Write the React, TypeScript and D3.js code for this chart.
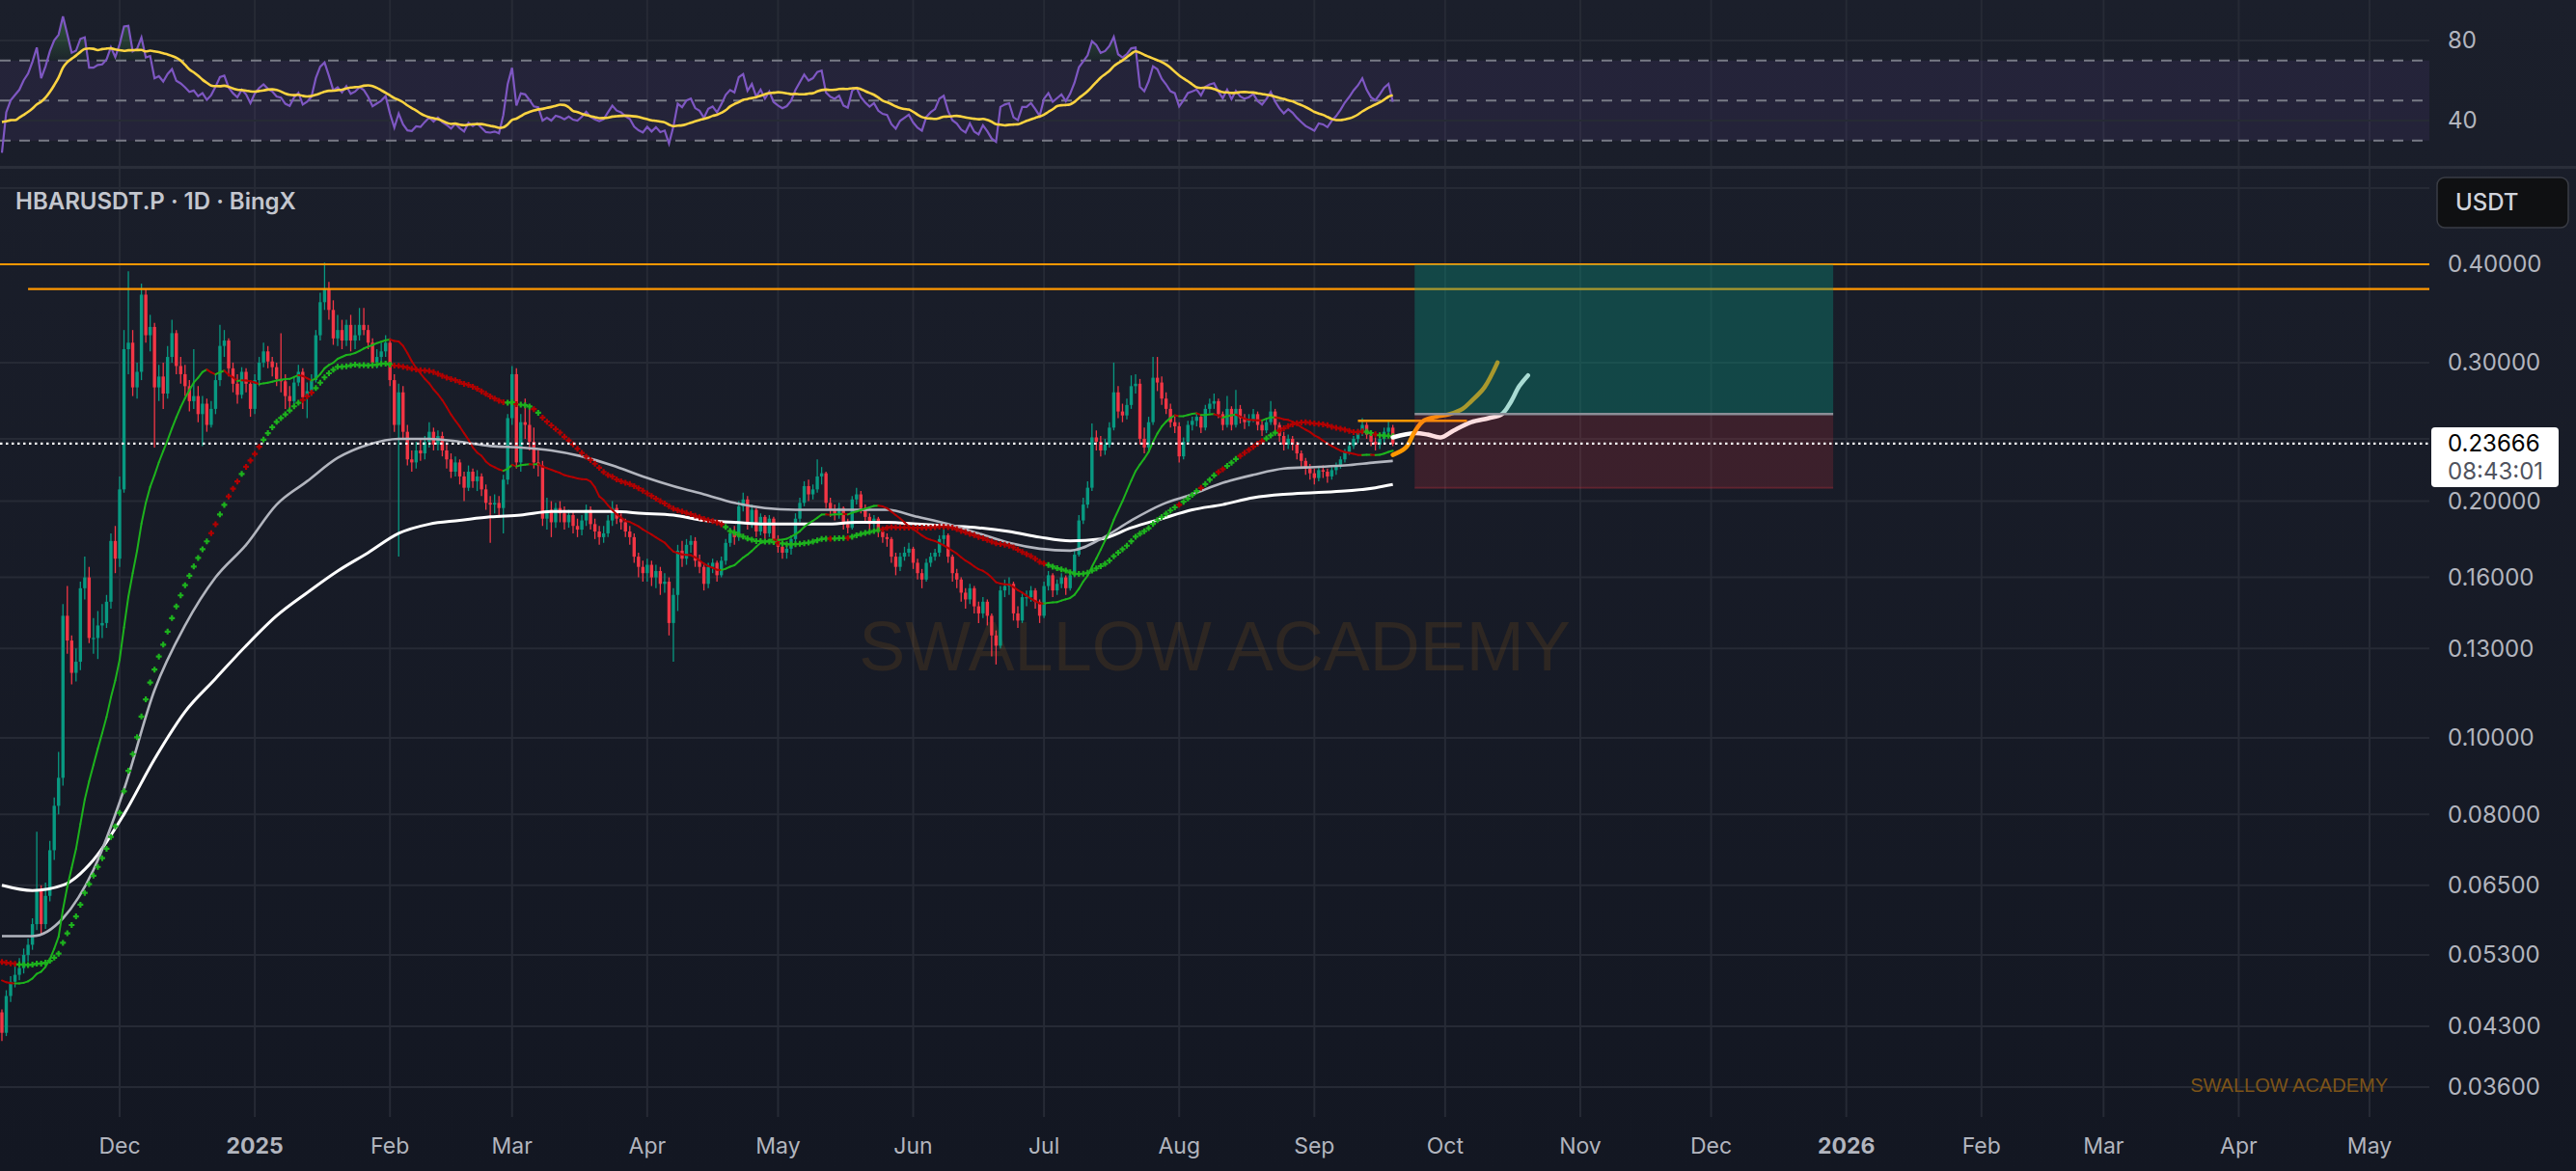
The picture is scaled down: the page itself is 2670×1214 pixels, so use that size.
import { useEffect, useRef } from "react";
import * as d3 from "d3";

// daily candles, the first one is 2024-11-04 (UTC), open = previous close
const firstCandle = "2024-11-04";

const closes = [
  0.0422, 0.047, 0.049, 0.05, 0.051, 0.053, 0.0546, 0.058, 0.064, 0.058,
  0.063, 0.072, 0.082, 0.089, 0.143, 0.133, 0.121, 0.125, 0.155, 0.16,
  0.134, 0.134, 0.139, 0.14, 0.149, 0.178, 0.169, 0.207, 0.312, 0.318,
  0.279, 0.292, 0.366, 0.325, 0.333, 0.279, 0.288, 0.274, 0.305, 0.327,
  0.297, 0.29, 0.28, 0.268, 0.272, 0.258, 0.266, 0.25, 0.262, 0.285,
  0.315, 0.32, 0.295, 0.282, 0.273, 0.292, 0.282, 0.262, 0.285, 0.3,
  0.31, 0.301, 0.296, 0.286, 0.284, 0.272, 0.268, 0.283, 0.292, 0.271,
  0.276, 0.285, 0.325, 0.358, 0.372, 0.35, 0.322, 0.33, 0.32, 0.335,
  0.32, 0.325, 0.335, 0.33, 0.318, 0.3, 0.305, 0.31, 0.318, 0.285,
  0.25, 0.275, 0.245, 0.226, 0.224, 0.232, 0.23, 0.238, 0.245, 0.236,
  0.242, 0.232, 0.226, 0.218, 0.224, 0.215, 0.208, 0.218, 0.212, 0.215,
  0.207, 0.199, 0.198, 0.199, 0.196, 0.213, 0.255, 0.29, 0.224, 0.252,
  0.25, 0.238, 0.224, 0.222, 0.19, 0.195, 0.188, 0.196, 0.193, 0.188,
  0.192, 0.186, 0.184, 0.189, 0.195, 0.187, 0.183, 0.18, 0.182, 0.189,
  0.196, 0.19, 0.188, 0.183, 0.18, 0.17, 0.165, 0.162, 0.166, 0.16,
  0.163, 0.157, 0.158, 0.14, 0.152, 0.173, 0.169, 0.176, 0.178, 0.168,
  0.165, 0.157, 0.165, 0.167, 0.161, 0.168, 0.177, 0.182, 0.18, 0.197,
  0.201, 0.187, 0.195, 0.183, 0.191, 0.182, 0.19, 0.179, 0.175, 0.172,
  0.174, 0.179, 0.19, 0.199, 0.209, 0.204, 0.207, 0.215, 0.217, 0.199,
  0.195, 0.193, 0.196, 0.187, 0.185, 0.201, 0.204, 0.196, 0.191, 0.187,
  0.19, 0.183, 0.18, 0.179, 0.17, 0.165, 0.17, 0.172, 0.174, 0.167,
  0.162, 0.159, 0.167, 0.17, 0.172, 0.179, 0.181, 0.17, 0.162, 0.159,
  0.153, 0.15, 0.155, 0.147, 0.144, 0.149, 0.143, 0.135, 0.131, 0.154,
  0.156, 0.157, 0.144, 0.141, 0.151, 0.151, 0.154, 0.149, 0.143, 0.156,
  0.161, 0.154, 0.157, 0.16, 0.155, 0.161, 0.171, 0.189, 0.198, 0.208,
  0.241, 0.238, 0.232, 0.236, 0.248, 0.275, 0.26, 0.257, 0.265, 0.28,
  0.282, 0.24, 0.234, 0.252, 0.287, 0.283, 0.27, 0.262, 0.252, 0.249,
  0.228, 0.238, 0.25, 0.253, 0.256, 0.248, 0.262, 0.266, 0.268, 0.258,
  0.25, 0.262, 0.25, 0.262, 0.255, 0.252, 0.254, 0.258, 0.25, 0.246,
  0.252, 0.26, 0.25, 0.242, 0.236, 0.24, 0.236, 0.23, 0.225, 0.22,
  0.217, 0.214, 0.219, 0.218, 0.215, 0.219, 0.222, 0.226, 0.231, 0.235,
  0.24, 0.244, 0.25, 0.243, 0.238, 0.236, 0.24, 0.245, 0.248, 0.2366,
];

const highs = [
  0.0452, 0.0478, 0.0498, 0.0515, 0.0525, 0.054, 0.0556, 0.059, 0.076, 0.065,
  0.0655, 0.074, 0.084, 0.096, 0.148, 0.156, 0.135, 0.13, 0.158, 0.17,
  0.165, 0.142, 0.145, 0.148, 0.152, 0.182, 0.186, 0.215, 0.33, 0.392,
  0.33, 0.3, 0.378, 0.372, 0.345, 0.337, 0.298, 0.3, 0.315, 0.34,
  0.33, 0.305, 0.298, 0.285, 0.312, 0.28, 0.272, 0.27, 0.268, 0.29,
  0.335, 0.33, 0.322, 0.3, 0.29, 0.296, 0.295, 0.285, 0.29, 0.305,
  0.318, 0.315, 0.305, 0.3, 0.327, 0.29, 0.28, 0.288, 0.298, 0.295,
  0.283, 0.29, 0.33, 0.368, 0.402, 0.38, 0.36, 0.345, 0.34, 0.34,
  0.345, 0.335, 0.352, 0.352, 0.335, 0.322, 0.312, 0.318, 0.325, 0.322,
  0.29, 0.282, 0.28, 0.25, 0.232, 0.238, 0.24, 0.242, 0.252, 0.248,
  0.246, 0.245, 0.236, 0.23, 0.228, 0.226, 0.218, 0.222, 0.22, 0.219,
  0.217, 0.21, 0.203, 0.204, 0.203, 0.216, 0.258, 0.297, 0.295, 0.258,
  0.27, 0.262, 0.248, 0.232, 0.225, 0.202, 0.2, 0.199, 0.2, 0.197,
  0.195, 0.194, 0.19, 0.192, 0.198, 0.197, 0.19, 0.186, 0.186, 0.192,
  0.2, 0.198, 0.193, 0.19, 0.186, 0.182, 0.172, 0.168, 0.169, 0.168,
  0.166, 0.165, 0.162, 0.16, 0.155, 0.176, 0.178, 0.179, 0.181, 0.18,
  0.171, 0.167, 0.167, 0.169, 0.168, 0.17, 0.179, 0.185, 0.186, 0.2,
  0.205, 0.203, 0.198, 0.196, 0.193, 0.192, 0.192, 0.191, 0.181, 0.177,
  0.176, 0.181, 0.193, 0.202, 0.212, 0.213, 0.21, 0.226, 0.221, 0.218,
  0.202, 0.198, 0.199, 0.197, 0.19, 0.203, 0.208, 0.206, 0.198, 0.193,
  0.192, 0.191, 0.185, 0.182, 0.18, 0.172, 0.172, 0.175, 0.177, 0.175,
  0.169, 0.164, 0.169, 0.172, 0.174, 0.181, 0.184, 0.182, 0.171, 0.164,
  0.16, 0.155, 0.157, 0.156, 0.149, 0.151, 0.15, 0.144, 0.137, 0.156,
  0.159, 0.16, 0.158, 0.147, 0.153, 0.154, 0.156, 0.155, 0.15, 0.158,
  0.163, 0.162, 0.159, 0.162, 0.161, 0.163, 0.173, 0.192, 0.202, 0.212,
  0.251, 0.246, 0.242, 0.24, 0.252, 0.3, 0.28, 0.266, 0.27, 0.289,
  0.29, 0.286, 0.248, 0.256, 0.305, 0.305, 0.288, 0.275, 0.266, 0.256,
  0.252, 0.241, 0.253, 0.256, 0.259, 0.258, 0.265, 0.27, 0.274, 0.27,
  0.26, 0.272, 0.264, 0.277, 0.265, 0.258, 0.258, 0.262, 0.26, 0.253,
  0.255, 0.268, 0.262, 0.252, 0.245, 0.243, 0.242, 0.238, 0.232, 0.227,
  0.223, 0.22, 0.221, 0.222, 0.22, 0.221, 0.224, 0.228, 0.233, 0.238,
  0.242, 0.247, 0.255, 0.252, 0.246, 0.241, 0.243, 0.248, 0.253, 0.25,
];

const lows = [
  0.0412, 0.0418, 0.0462, 0.0482, 0.0492, 0.0502, 0.052, 0.0538, 0.057, 0.0562,
  0.0572, 0.062, 0.07, 0.08, 0.087, 0.128, 0.117, 0.118, 0.122, 0.15,
  0.132, 0.128, 0.126, 0.134, 0.138, 0.146, 0.162, 0.165, 0.205, 0.29,
  0.272, 0.27, 0.285, 0.318, 0.31, 0.234, 0.268, 0.262, 0.27, 0.3,
  0.29, 0.282, 0.272, 0.26, 0.262, 0.252, 0.235, 0.245, 0.248, 0.258,
  0.28, 0.305, 0.288, 0.275, 0.266, 0.27, 0.275, 0.256, 0.258, 0.28,
  0.296, 0.295, 0.288, 0.28, 0.275, 0.262, 0.26, 0.265, 0.28, 0.262,
  0.255, 0.272, 0.283, 0.32, 0.35, 0.34, 0.316, 0.315, 0.312, 0.315,
  0.31, 0.312, 0.32, 0.325, 0.312, 0.295, 0.295, 0.298, 0.305, 0.28,
  0.245, 0.17, 0.24, 0.222, 0.218, 0.22, 0.225, 0.226, 0.234, 0.232,
  0.232, 0.228, 0.22, 0.214, 0.215, 0.21, 0.2, 0.206, 0.208, 0.206,
  0.203, 0.195, 0.177, 0.193, 0.191, 0.182, 0.21, 0.25, 0.22, 0.218,
  0.24, 0.232, 0.22, 0.215, 0.186, 0.184, 0.18, 0.185, 0.188, 0.184,
  0.185, 0.182, 0.18, 0.181, 0.186, 0.184, 0.179, 0.176, 0.177, 0.18,
  0.186, 0.187, 0.184, 0.18, 0.176, 0.167, 0.16, 0.158, 0.158, 0.156,
  0.155, 0.152, 0.153, 0.135, 0.125, 0.145, 0.165, 0.166, 0.172, 0.165,
  0.162, 0.154, 0.155, 0.162, 0.158, 0.16, 0.166, 0.175, 0.176, 0.178,
  0.194, 0.184, 0.185, 0.18, 0.181, 0.179, 0.18, 0.176, 0.172, 0.169,
  0.169, 0.171, 0.177, 0.188, 0.197, 0.2, 0.201, 0.205, 0.21, 0.196,
  0.191, 0.189, 0.19, 0.184, 0.182, 0.184, 0.198, 0.193, 0.188, 0.184,
  0.185, 0.18, 0.177, 0.175, 0.167, 0.161, 0.163, 0.168, 0.17, 0.164,
  0.159, 0.155, 0.158, 0.165, 0.168, 0.17, 0.176, 0.167, 0.158, 0.155,
  0.149, 0.146, 0.148, 0.144, 0.14, 0.142, 0.139, 0.127, 0.124, 0.13,
  0.151, 0.152, 0.141, 0.138, 0.14, 0.147, 0.149, 0.146, 0.14, 0.142,
  0.154, 0.151, 0.152, 0.155, 0.152, 0.154, 0.16, 0.17, 0.187, 0.196,
  0.206, 0.232, 0.228, 0.229, 0.234, 0.246, 0.255, 0.252, 0.254, 0.262,
  0.274, 0.236, 0.23, 0.232, 0.25, 0.276, 0.265, 0.258, 0.248, 0.244,
  0.224, 0.226, 0.236, 0.246, 0.249, 0.244, 0.246, 0.259, 0.262, 0.255,
  0.246, 0.248, 0.246, 0.248, 0.251, 0.247, 0.249, 0.252, 0.246, 0.242,
  0.244, 0.25, 0.246, 0.238, 0.232, 0.233, 0.232, 0.226, 0.221, 0.216,
  0.213, 0.21, 0.212, 0.214, 0.211, 0.213, 0.216, 0.22, 0.224, 0.229,
  0.233, 0.237, 0.242, 0.24, 0.235, 0.232, 0.233, 0.237, 0.242, 0.235,
];

// closes before the first visible candle, only used to warm up the SMA / RSI
const priorCloses = [
  0.053, 0.0535, 0.054, 0.0552, 0.0556, 0.056, 0.0558,
  0.0565, 0.0572, 0.0568, 0.0575, 0.058, 0.0576, 0.057,
  0.0555, 0.0522, 0.051, 0.0515, 0.052, 0.0518, 0.0524,
  0.052, 0.0512, 0.0508, 0.0502, 0.051, 0.0515, 0.0512,
  0.0525, 0.0518, 0.0522, 0.0515, 0.051, 0.0508, 0.0512,
  0.0505, 0.0498, 0.0502, 0.052, 0.0485, 0.049, 0.0495,
  0.05, 0.0505, 0.0492, 0.048, 0.0468, 0.046, 0.0448,
];

// slow moving averages, read every 7 days from the first candle (last = final candle)
const ma100 = [
  0.056, 0.056, 0.059, 0.068, 0.086, 0.115, 0.139, 0.16, 0.176, 0.198,
  0.212, 0.227, 0.236, 0.24, 0.24, 0.238, 0.235, 0.234, 0.232, 0.228,
  0.222, 0.215, 0.209, 0.204, 0.199, 0.196, 0.195, 0.195, 0.195, 0.195,
  0.191, 0.187, 0.182, 0.177, 0.174, 0.173, 0.179, 0.189, 0.198, 0.204,
  0.211, 0.216, 0.22, 0.221, 0.222, 0.224, 0.225,
];
const ma200 = [
  0.065, 0.064, 0.065, 0.07, 0.08, 0.094, 0.108, 0.119, 0.131, 0.143,
  0.153, 0.163, 0.172, 0.182, 0.187, 0.189, 0.191, 0.192, 0.194, 0.194,
  0.194, 0.193, 0.192, 0.189, 0.188, 0.187, 0.187, 0.187, 0.188, 0.188,
  0.187, 0.186, 0.185, 0.183, 0.18, 0.178, 0.179, 0.185, 0.19, 0.195,
  0.198, 0.202, 0.204, 0.205, 0.206, 0.208, 0.21,
];

const priceTicks = [0.5, 0.4, 0.3, 0.24, 0.2, 0.16, 0.13, 0.1, 0.08, 0.065, 0.053, 0.043, 0.036];
const hiddenTicks = [0.5, 0.24];
const rsiGridTicks = [80, 40];
const rsiBandTicks = [70, 50, 30];
const lastPrice = 0.23666;
const countdown = "08:43:01";

// horizontal levels drawn on the chart
const levelPrices = [0.4, 0.372];
const levelStarts = ["2024-11-01", "2024-11-10"];
const resistancePrice = 0.253;
const resistanceDates = ["2025-09-11", "2025-10-06"];

// long position tool
const positionDates = ["2025-09-24", "2025-12-29"];
const positionEntry = 0.258;
const positionTarget = 0.4;
const positionStop = 0.208;

// projected paths, in days after the last candle
const orangeDays = [0, 3, 5, 7, 10, 13, 16, 18, 21, 24];
const orangePrices = [0.229, 0.234, 0.245, 0.253, 0.256, 0.258, 0.262, 0.268, 0.279, 0.3];
const whiteDays = [0, 5, 8, 11, 14, 18, 22, 25, 27, 29, 31];
const whitePrices = [0.241, 0.244, 0.243, 0.241, 0.246, 0.252, 0.255, 0.258, 0.267, 0.28, 0.289];

const W = 2670;
const H = 1214;
const plotRight = 2518;
const rsiBottom = 172;
const mainTop = 175;
const mainBottom = 1158;

const sma = (v: number[], n: number) =>
  v.map((_, i) => (i < n - 1 ? NaN : (d3.sum(v.slice(i - n + 1, i + 1)) as number) / n));

const rsiCalc = (v: number[], n: number) => {
  const out = v.map(() => NaN);
  let g = 0;
  let l = 0;
  for (let i = 1; i <= n; i++) {
    const d = v[i] - v[i - 1];
    if (d > 0) g += d;
    else l -= d;
  }
  g /= n;
  l /= n;
  out[n] = 100 - 100 / (1 + g / l);
  for (let i = n + 1; i < v.length; i++) {
    const d = v[i] - v[i - 1];
    g = (g * (n - 1) + Math.max(d, 0)) / n;
    l = (l * (n - 1) + Math.max(-d, 0)) / n;
    out[i] = l === 0 ? 100 : 100 - 100 / (1 + g / l);
  }
  return out;
};

const App = () => {
  const ref = useRef<SVGSVGElement>(null);

  useEffect(() => {
    if (!ref.current) return;
    const svg = d3.select(ref.current);
    svg.selectAll("*").remove();

    const font = "Inter, 'Noto Sans', sans-serif";
    const green = "#1db31d";
    const red = "#b30000";
    const up = "#089981";
    const down = "#f23645";
    const gridColor = "#262a35";
    const labelColor = "#b2b5be";

    const parse = d3.utcParse("%Y-%m-%d");
    const t0 = parse(firstCandle)!;
    const n = closes.length;
    const dates = closes.map((_, i) => d3.utcDay.offset(t0, i));
    const lastDate = dates[n - 1];

    const x = d3
      .scaleUtc()
      .domain([new Date(Date.UTC(2024, 11, 1)), new Date(Date.UTC(2026, 4, 1))])
      .range([124, 2456]);
    const y = d3.scaleLog().domain([0.036, 0.4]).range([1127, 274]);
    const yR = d3.scaleLinear().domain([20, 100]).range([166.5, 0.5]);

    // indicators
    const all = priorCloses.concat(closes);
    const off = priorCloses.length;
    const sma20All = sma(all, 20);
    const sma20 = sma20All.slice(off);
    const sma50 = sma(all, 50).slice(off);
    const rising = sma20.map((v, i) => v >= sma20All[off + i - 1]);
    const rsiAll = rsiCalc(all, 14);
    const rsiMaAll = rsiAll.map((_, i) =>
      i < 27 ? NaN : (d3.sum(rsiAll.slice(i - 13, i + 1)) as number) / 14
    );
    const rsi = rsiAll.slice(off);
    const rsiMa = rsiMaAll.slice(off);

    // defs
    const defs = svg.append("defs");
    const bg = defs.append("linearGradient").attr("id", "bg").attr("x1", 0).attr("x2", 0).attr("y1", 0).attr("y2", 1);
    bg.append("stop").attr("offset", "0%").attr("stop-color", "#1b1f2b");
    bg.append("stop").attr("offset", "100%").attr("stop-color", "#131722");
    defs.append("clipPath").attr("id", "rsiClip").append("rect")
      .attr("x", 0).attr("y", 0).attr("width", plotRight).attr("height", rsiBottom);
    defs.append("clipPath").attr("id", "mainClip").append("rect")
      .attr("x", 0).attr("y", mainTop).attr("width", plotRight).attr("height", mainBottom - mainTop);
    defs.append("clipPath").attr("id", "rsiTop").append("rect")
      .attr("x", 0).attr("y", 0).attr("width", plotRight).attr("height", yR(70));
    defs.append("clipPath").attr("id", "rsiBottomClip").append("rect")
      .attr("x", 0).attr("y", yR(30)).attr("width", plotRight).attr("height", rsiBottom - yR(30));
    const gUp = defs.append("linearGradient").attr("id", "rsiUp").attr("gradientUnits", "userSpaceOnUse")
      .attr("x1", 0).attr("x2", 0).attr("y1", yR(95)).attr("y2", yR(70));
    gUp.append("stop").attr("offset", "0%").attr("stop-color", "#4caf50").attr("stop-opacity", 0.45);
    gUp.append("stop").attr("offset", "100%").attr("stop-color", "#4caf50").attr("stop-opacity", 0.04);
    const gDn = defs.append("linearGradient").attr("id", "rsiDn").attr("gradientUnits", "userSpaceOnUse")
      .attr("x1", 0).attr("x2", 0).attr("y1", yR(30)).attr("y2", yR(10));
    gDn.append("stop").attr("offset", "0%").attr("stop-color", "#f23645").attr("stop-opacity", 0.04);
    gDn.append("stop").attr("offset", "100%").attr("stop-color", "#f23645").attr("stop-opacity", 0.45);

    svg.append("rect").attr("width", W).attr("height", H).attr("fill", "url(#bg)");

    // vertical month grid over both panes
    const months = d3.utcMonth.range(new Date(Date.UTC(2024, 11, 1)), new Date(Date.UTC(2026, 5, 1)));
    svg.append("g").selectAll("line").data(months).join("line")
      .attr("x1", (d) => x(d)).attr("x2", (d) => x(d))
      .attr("y1", 0).attr("y2", mainBottom)
      .attr("stroke", gridColor).attr("stroke-width", 2);

    // ---------- RSI pane ----------
    const rg = svg.append("g").attr("clip-path", "url(#rsiClip)");
    rg.append("rect").attr("x", 0).attr("width", plotRight)
      .attr("y", yR(70)).attr("height", yR(30) - yR(70))
      .attr("fill", "rgba(126,87,194,0.1)");
    rg.selectAll(".rgrid").data(rsiGridTicks).join("line").attr("class", "rgrid")
      .attr("x1", 0).attr("x2", plotRight).attr("y1", (d) => yR(d)).attr("y2", (d) => yR(d))
      .attr("stroke", gridColor).attr("stroke-width", 2);
    rg.selectAll(".rband").data(rsiBandTicks).join("line").attr("class", "rband")
      .attr("x1", 0).attr("x2", plotRight).attr("y1", (d) => yR(d)).attr("y2", (d) => yR(d))
      .attr("stroke", "#787b86").attr("stroke-width", 2).attr("stroke-dasharray", "11 9");

    const rsiIdx = d3.range(n).filter((i) => !isNaN(rsi[i]));
    rg.append("path").attr("clip-path", "url(#rsiTop)")
      .attr("d", d3.area<number>().x((i) => x(dates[i])).y1((i) => yR(rsi[i])).y0(yR(70))(rsiIdx) as string)
      .attr("fill", "url(#rsiUp)");
    rg.append("path").attr("clip-path", "url(#rsiBottomClip)")
      .attr("d", d3.area<number>().x((i) => x(dates[i])).y1((i) => yR(rsi[i])).y0(yR(30))(rsiIdx) as string)
      .attr("fill", "url(#rsiDn)");
    rg.append("path")
      .attr("d", d3.line<number>().x((i) => x(dates[i])).y((i) => yR(rsi[i]))(rsiIdx) as string)
      .attr("fill", "none").attr("stroke", "#7e57c2").attr("stroke-width", 2.2);
    const maIdx = d3.range(n).filter((i) => !isNaN(rsiMa[i]));
    rg.append("path")
      .attr("d", d3.line<number>().x((i) => x(dates[i])).y((i) => yR(rsiMa[i])).curve(d3.curveMonotoneX)(maIdx) as string)
      .attr("fill", "none").attr("stroke", "#fbd341").attr("stroke-width", 2.6);

    // pane separator
    svg.append("line").attr("x1", 0).attr("x2", W).attr("y1", 173.5).attr("y2", 173.5)
      .attr("stroke", "#2a2e39").attr("stroke-width", 3);

    // ---------- main pane ----------
    const mg = svg.append("g").attr("clip-path", "url(#mainClip)");
    mg.selectAll(".pgrid").data(priceTicks).join("line").attr("class", "pgrid")
      .attr("x1", 0).attr("x2", plotRight).attr("y1", (d) => y(d)).attr("y2", (d) => y(d))
      .attr("stroke", gridColor).attr("stroke-width", 2);

    // watermark
    mg.append("text").attr("x", 1259).attr("y", 695).attr("text-anchor", "middle")
      .attr("font-family", "'Liberation Sans', Arial, sans-serif").attr("font-size", 72)
      .attr("fill", "rgba(255,152,0,0.1)").text("SWALLOW ACADEMY");

    // candles
    const cg = mg.append("g");
    const opens = closes.map((_, i) => (i === 0 ? priorCloses[priorCloses.length - 1] : closes[i - 1]));
    const idx = d3.range(n);
    cg.selectAll(".wick").data(idx).join("line").attr("class", "wick")
      .attr("x1", (i) => x(dates[i])).attr("x2", (i) => x(dates[i]))
      .attr("y1", (i) => y(Math.max(highs[i], opens[i], closes[i])))
      .attr("y2", (i) => y(Math.min(lows[i], opens[i], closes[i])))
      .attr("stroke", (i) => (closes[i] >= opens[i] ? up : down)).attr("stroke-width", 1.3);
    cg.selectAll(".body").data(idx).join("rect").attr("class", "body")
      .attr("x", (i) => x(dates[i]) - 1.7).attr("width", 3.4)
      .attr("y", (i) => y(Math.max(opens[i], closes[i])))
      .attr("height", (i) => Math.max(1.2, y(Math.min(opens[i], closes[i])) - y(Math.max(opens[i], closes[i]))))
      .attr("fill", (i) => (closes[i] >= opens[i] ? up : down));

    // slow averages
    const sampleIdx = ma100.map((_, k) => Math.min(k * 7, n - 1));
    const maLine = d3.line<number>().x((_, k) => x(dates[sampleIdx[k]])).y((v) => y(v)).curve(d3.curveMonotoneX);
    mg.append("path").attr("d", maLine(ma200) as string).attr("fill", "none")
      .attr("stroke", "#ffffff").attr("stroke-width", 3);
    mg.append("path").attr("d", maLine(ma100) as string).attr("fill", "none")
      .attr("stroke", "#b2b5be").attr("stroke-width", 2.6);

    // SMA50 drawn as crosses
    mg.append("g").selectAll("path").data(idx).join("path")
      .attr("d", (i) => {
        const cx = x(dates[i]);
        const cy = y(sma50[i]);
        return `M${cx - 3},${cy}h6M${cx},${cy - 3}v6`;
      })
      .attr("stroke", (i) => (rising[i] ? green : red)).attr("stroke-width", 2.2);

    // SMA20 thin line coloured by slope
    mg.append("g").selectAll("line").data(d3.range(1, n)).join("line")
      .attr("x1", (i) => x(dates[i - 1])).attr("y1", (i) => y(sma20[i - 1]))
      .attr("x2", (i) => x(dates[i])).attr("y2", (i) => y(sma20[i]))
      .attr("stroke", (i) => (rising[i] ? green : red)).attr("stroke-width", 2).attr("stroke-linecap", "round");

    // horizontal levels
    mg.selectAll(".level").data(levelPrices).join("line").attr("class", "level")
      .attr("x1", (_, k) => x(parse(levelStarts[k])!)).attr("x2", plotRight)
      .attr("y1", (d) => y(d)).attr("y2", (d) => y(d))
      .attr("stroke", "#ff9800").attr("stroke-width", 2.2);

    // projections
    const proj = d3.line<[number, number]>()
      .x((d) => x(d3.utcDay.offset(lastDate, d[0])))
      .y((d) => y(d[1]))
      .curve(d3.curveCatmullRom.alpha(0.5));
    mg.append("path").attr("d", proj(whiteDays.map((d, k) => [d, whitePrices[k]])) as string)
      .attr("fill", "none").attr("stroke", "#ffffff").attr("stroke-width", 4.5).attr("stroke-linecap", "round");
    mg.append("path").attr("d", proj(orangeDays.map((d, k) => [d, orangePrices[k]])) as string)
      .attr("fill", "none").attr("stroke", "#ff9800").attr("stroke-width", 4.5).attr("stroke-linecap", "round");

    mg.append("line")
      .attr("x1", x(parse(resistanceDates[0])!)).attr("x2", x(parse(resistanceDates[1])!))
      .attr("y1", y(resistancePrice)).attr("y2", y(resistancePrice))
      .attr("stroke", "#ff9800").attr("stroke-width", 2.5);

    // long position tool
    const px0 = x(parse(positionDates[0])!);
    const px1 = x(parse(positionDates[1])!);
    mg.append("rect").attr("x", px0).attr("width", px1 - px0)
      .attr("y", y(positionTarget)).attr("height", y(positionEntry) - y(positionTarget))
      .attr("fill", "rgba(8,153,129,0.35)");
    mg.append("rect").attr("x", px0).attr("width", px1 - px0)
      .attr("y", y(positionEntry)).attr("height", y(positionStop) - y(positionEntry))
      .attr("fill", "rgba(242,54,69,0.165)");
    mg.append("line").attr("x1", px0).attr("x2", px1)
      .attr("y1", y(positionStop)).attr("y2", y(positionStop))
      .attr("stroke", "rgba(242,54,69,0.25)").attr("stroke-width", 2);
    mg.append("line").attr("x1", px0).attr("x2", px1)
      .attr("y1", y(positionEntry)).attr("y2", y(positionEntry))
      .attr("stroke", "#8b8e97").attr("stroke-width", 2.5);

    // last price dotted line
    mg.append("line").attr("x1", 0).attr("x2", plotRight)
      .attr("y1", y(lastPrice)).attr("y2", y(lastPrice))
      .attr("stroke", "#ffffff").attr("stroke-width", 2.4).attr("stroke-dasharray", "2.5 3.5");

    // small watermark
    svg.append("text").attr("x", 2475).attr("y", 1132).attr("text-anchor", "end")
      .attr("font-family", "'Liberation Sans', Arial, sans-serif").attr("font-size", 20)
      .attr("fill", "#7d5418").text("SWALLOW ACADEMY");

    // header
    svg.append("text").attr("x", 16).attr("y", 217)
      .attr("font-family", font).attr("font-size", 24).attr("font-weight", 600)
      .attr("fill", "#c3c6ce").text("HBARUSDT.P · 1D · BingX");

    // ---------- axes ----------
    svg.append("g").selectAll("text").data(rsiGridTicks).join("text")
      .attr("x", 2537).attr("y", (d) => yR(d)).attr("dy", "0.35em")
      .attr("font-family", font).attr("font-size", 24).attr("fill", labelColor)
      .text((d) => d);

    svg.append("g").selectAll("text")
      .data(priceTicks.filter((t) => !hiddenTicks.includes(t))).join("text")
      .attr("x", 2537).attr("y", (d) => y(d)).attr("dy", "0.35em")
      .attr("font-family", font).attr("font-size", 24).attr("fill", labelColor)
      .text((d) => d3.format(".5f")(d));

    // USDT button
    svg.append("rect").attr("x", 2526).attr("y", 184).attr("width", 136).attr("height", 52).attr("rx", 8)
      .attr("fill", "#0f1012").attr("stroke", "#3a3d45").attr("stroke-width", 1.5);
    svg.append("text").attr("x", 2545).attr("y", 210).attr("dy", "0.35em")
      .attr("font-family", font).attr("font-size", 24).attr("font-weight", 500)
      .attr("fill", "#d1d4dc").text("USDT");

    // last price label
    const ly = y(lastPrice);
    svg.append("rect").attr("x", 2520).attr("y", ly - 17).attr("width", 132).attr("height", 62).attr("rx", 4)
      .attr("fill", "#ffffff");
    svg.append("text").attr("x", 2537).attr("y", ly).attr("dy", "0.35em")
      .attr("font-family", font).attr("font-size", 24).attr("fill", "#000000")
      .text(d3.format(".5f")(lastPrice));
    svg.append("text").attr("x", 2537).attr("y", ly + 29).attr("dy", "0.35em")
      .attr("font-family", font).attr("font-size", 24).attr("fill", "#50535e")
      .text(countdown);

    // time axis
    svg.append("g").selectAll("text").data(months).join("text")
      .attr("x", (d) => x(d)).attr("y", 1188).attr("dy", "0.35em").attr("text-anchor", "middle")
      .attr("font-family", font).attr("font-size", 23)
      .attr("font-weight", (d) => (d.getUTCMonth() === 0 ? 700 : 400))
      .attr("fill", labelColor)
      .text((d) => (d.getUTCMonth() === 0 ? d3.utcFormat("%Y")(d) : d3.utcFormat("%b")(d)));
  }, []);

  return (
    <svg
      ref={ref}
      width={W}
      height={H}
      style={{ position: "fixed", left: 0, top: 0, display: "block" }}
    />
  );
};

export default App;
